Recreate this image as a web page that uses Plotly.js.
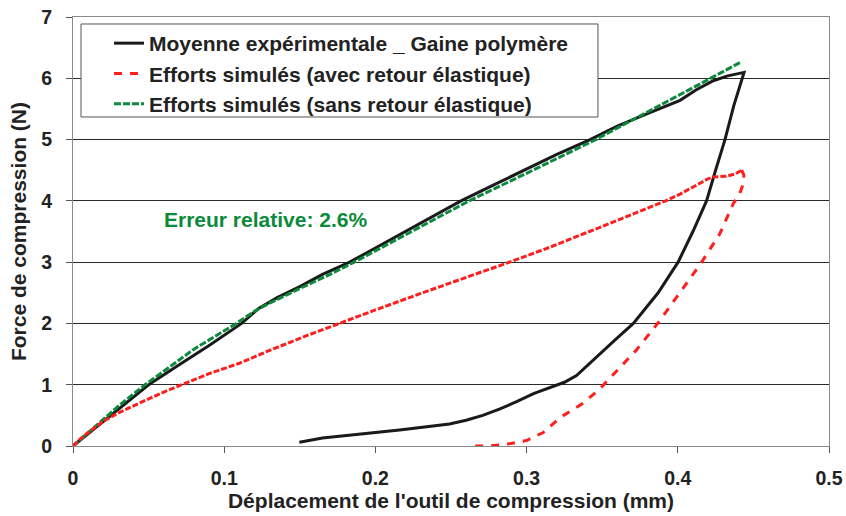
<!DOCTYPE html>
<html>
<head>
<meta charset="utf-8">
<script src="https://cdn.plot.ly/plotly-3.0.1.min.js"></script>
<style>html,body{margin:0;padding:0;background:#fff;}#chart{width:846px;height:516px;}</style>
</head>
<body>
<div id="chart"></div>
<script>
// Experimental mean (loading then unloading)
const expX = [0, 0.01, 0.02, 0.03, 0.04, 0.05, 0.07, 0.09, 0.1115, 0.123, 0.135, 0.15, 0.165, 0.183, 0.2, 0.22, 0.24, 0.2566, 0.28, 0.3, 0.32, 0.342, 0.36, 0.3795, 0.4015, 0.412, 0.4235, 0.433, 0.4438,
              0.437, 0.4312, 0.425, 0.419, 0.41, 0.4002, 0.387, 0.3706, 0.358, 0.345, 0.333, 0.325, 0.3155, 0.305, 0.293, 0.282, 0.271, 0.26, 0.249, 0.23, 0.216, 0.2, 0.183, 0.165, 0.1497];
const expY = [0, 0.2, 0.4, 0.6, 0.8, 1.0, 1.32, 1.64, 2.0, 2.25, 2.42, 2.6, 2.8, 3.0, 3.23, 3.5, 3.77, 4.0, 4.28, 4.52, 4.76, 5.0, 5.22, 5.42, 5.64, 5.81, 5.96, 6.04, 6.096,
              5.55, 5.0, 4.5, 4.0, 3.5, 3.0, 2.5, 2.0, 1.72, 1.42, 1.15, 1.04, 0.96, 0.86, 0.72, 0.6, 0.5, 0.42, 0.36, 0.3, 0.26, 0.22, 0.18, 0.13, 0.06];

// Simulated, with elastic return: loading branch
const avecLoadX = [0, 0.005, 0.01, 0.02, 0.03, 0.04, 0.05, 0.06, 0.072, 0.09, 0.11, 0.13, 0.1545, 0.1746, 0.2, 0.23, 0.26, 0.2887, 0.315, 0.34, 0.365, 0.392, 0.4015, 0.42, 0.4235, 0.432, 0.438, 0.4422];
const avecLoadY = [0, 0.12, 0.22, 0.4, 0.54, 0.66, 0.77, 0.88, 1.0, 1.18, 1.35, 1.56, 1.8, 1.99, 2.22, 2.49, 2.75, 3.0, 3.24, 3.48, 3.73, 4.0, 4.11, 4.36, 4.39, 4.40, 4.44, 4.50];
// Simulated, with elastic return: unloading branch
const avecUnloadX = [0.4422, 0.4437, 0.4433, 0.441, 0.4366, 0.4277, 0.415, 0.401, 0.3867, 0.3724, 0.358, 0.3475, 0.3368, 0.3225, 0.311, 0.3, 0.287, 0.275, 0.262];
const avecUnloadY = [4.50, 4.42, 4.28, 4.12, 3.95, 3.46, 2.97, 2.48, 2.0, 1.56, 1.18, 0.91, 0.69, 0.47, 0.22, 0.09, 0.03, 0.0, 0.0];

// Simulated, without elastic return
const sansX = [0, 0.01, 0.02, 0.03, 0.04, 0.0476, 0.06, 0.08, 0.1, 0.108, 0.12, 0.13, 0.15, 0.17, 0.186, 0.22, 0.262, 0.3, 0.3457, 0.37, 0.4015, 0.4235, 0.4422];
const sansY = [0, 0.22, 0.44, 0.65, 0.85, 1.0, 1.22, 1.58, 1.88, 2.0, 2.2, 2.33, 2.57, 2.8, 3.0, 3.45, 4.0, 4.45, 5.0, 5.32, 5.74, 6.03, 6.27];

const legendNames = ["Moyenne expérimentale _ Gaine polymère", "Efforts simulés (avec retour élastique)", "Efforts simulés (sans retour élastique)"];
const annotationText = "Erreur relative: 2.6%";
const xTicks = [0, 0.1, 0.2, 0.3, 0.4, 0.5];
const yTicks = [0, 1, 2, 3, 4, 5, 6, 7];

const RED = "#ff1e1e", GREEN = "#0b8a3b", BLACK = "#1a1a1a";
const FONT = "Liberation Sans, Arial, sans-serif";

const traces = [
  {x: expX, y: expY, mode: "lines", name: legendNames[0], line: {color: BLACK, width: 3}},
  {x: avecUnloadX, y: avecUnloadY, mode: "lines", name: legendNames[1], line: {color: RED, width: 3, dash: "8px,8px"}},
  {x: sansX, y: sansY, mode: "lines", name: legendNames[2], line: {color: GREEN, width: 3, dash: "7px,2px"}},
  {x: avecLoadX, y: avecLoadY, mode: "lines", name: legendNames[1], showlegend: false, line: {color: RED, width: 3, dash: "6px,2px"}}
];

const layout = {
  width: 846, height: 516,
  margin: {l: 73, r: 17, t: 17, b: 70, pad: 0},
  paper_bgcolor: "#fff", plot_bgcolor: "#fff",
  font: {family: FONT, color: "#222", weight: "bold"},
  showlegend: true,
  legend: {
    x: 0.0476, y: 0.986, xanchor: "left", yanchor: "top",
    bgcolor: "rgba(0,0,0,0)", borderwidth: 0,
    font: {family: FONT, size: 21, color: "#222", weight: "bold"},
    traceorder: "normal"
  },
  xaxis: {
    range: [0, 0.5], tickvals: xTicks, ticktext: xTicks.map(String),
    showgrid: false, zeroline: false,
    showline: true, linecolor: "#8a8a8a", linewidth: 1, mirror: true,
    ticks: "outside", ticklen: 6, tickcolor: "#555",
    ticklabelstandoff: 9,
    tickfont: {family: FONT, size: 19.5, color: "#222", weight: "bold"},
    title: {text: "Déplacement de l'outil de compression (mm)", font: {family: FONT, size: 21, color: "#222", weight: "bold"}, standoff: 3}
  },
  yaxis: {
    range: [0, 7], tickvals: yTicks, ticktext: yTicks.map(String),
    showgrid: true, gridcolor: "#2a2a2a", gridwidth: 1, zeroline: false,
    showline: true, linecolor: "#8a8a8a", linewidth: 1, mirror: true,
    ticks: "outside", ticklen: 6, tickcolor: "#555",
    ticklabelstandoff: 10,
    tickfont: {family: FONT, size: 19.5, color: "#222", weight: "bold"},
    title: {text: "Force de compression (N)", font: {family: FONT, size: 21, color: "#222", weight: "bold"}, standoff: 8}
  },
  shapes: [{
    type: "rect", xref: "paper", yref: "paper",
    x0: 0.0106, x1: 0.6944, y0: 0.7669, y1: 0.9837,
    line: {color: "#555", width: 1}, fillcolor: "#fff", layer: "above"
  }],
  annotations: [{
    x: 0.127, y: 3.69, xref: "x", yref: "y", text: annotationText, showarrow: false,
    font: {family: FONT, size: 21, color: GREEN, weight: "bold"}
  }]
};

Plotly.newPlot("chart", traces, layout, {staticPlot: true, displayModeBar: false});
</script>
</body>
</html>
